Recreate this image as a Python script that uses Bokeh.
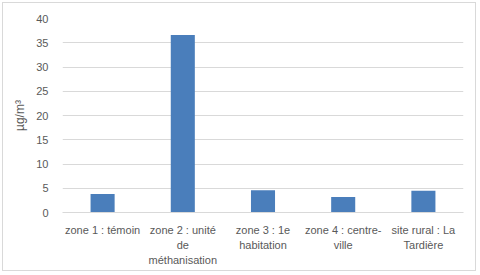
from bokeh.plotting import figure
from bokeh.models import ColumnDataSource, FixedTicker, Range1d
from bokeh.embed import file_html
from bokeh.resources import INLINE

categories = ["zone 1 : témoin", "zone 2 : unité\nde\nméthanisation",
              "zone 3 : 1e\nhabitation", "zone 4 : centre-\nville",
              "site rural : La\nTardière"]
values = [3.8, 36.6, 4.6, 3.2, 4.5]
y_ticks = [0, 5, 10, 15, 20, 25, 30, 35, 40]

FONT = "Liberation Sans"
GRAY = "#595959"

p = figure(x_range=categories, y_range=Range1d(0, 40), width=474, height=269,
           output_backend="svg", toolbar_location=None,
           min_border_left=59, min_border_right=14, min_border_top=15,
           min_border_bottom=60,
           styles={"margin": "2px", "border": "1px solid #d9d9d9"})
p.outline_line_color = None
p.background_fill_color = "white"
p.border_fill_color = "white"

src = ColumnDataSource(dict(cat=categories, val=values))
p.vbar(x="cat", top="val", width=0.3, source=src, fill_color="#4a7ebb",
       line_color=None)

p.yaxis.ticker = FixedTicker(ticks=y_ticks)
p.yaxis.axis_line_color = None
p.yaxis.major_tick_line_color = None
p.yaxis.minor_tick_line_color = None
p.yaxis.major_label_text_font = FONT
p.yaxis.major_label_text_font_size = "11px"
p.yaxis.major_label_text_color = GRAY
p.yaxis.major_label_standoff = 8
p.yaxis.axis_label = "µg/m³"
p.yaxis.axis_label_text_font = FONT
p.yaxis.axis_label_text_font_style = "normal"
p.yaxis.axis_label_text_font_size = "12px"
p.yaxis.axis_label_text_color = GRAY
p.yaxis.axis_label_standoff = 6

p.xaxis.axis_line_color = "#d9d9d9"
p.xaxis.major_tick_line_color = None
p.xaxis.minor_tick_line_color = None
p.xaxis.major_label_text_font = FONT
p.xaxis.major_label_text_font_size = "11px"
p.xaxis.major_label_text_color = GRAY
p.xaxis.major_label_standoff = 5
p.xaxis.major_label_text_line_height = 1.25

p.xgrid.grid_line_color = None
p.ygrid.grid_line_color = "#d9d9d9"

open("out.html", "w").write(file_html(p, INLINE))
